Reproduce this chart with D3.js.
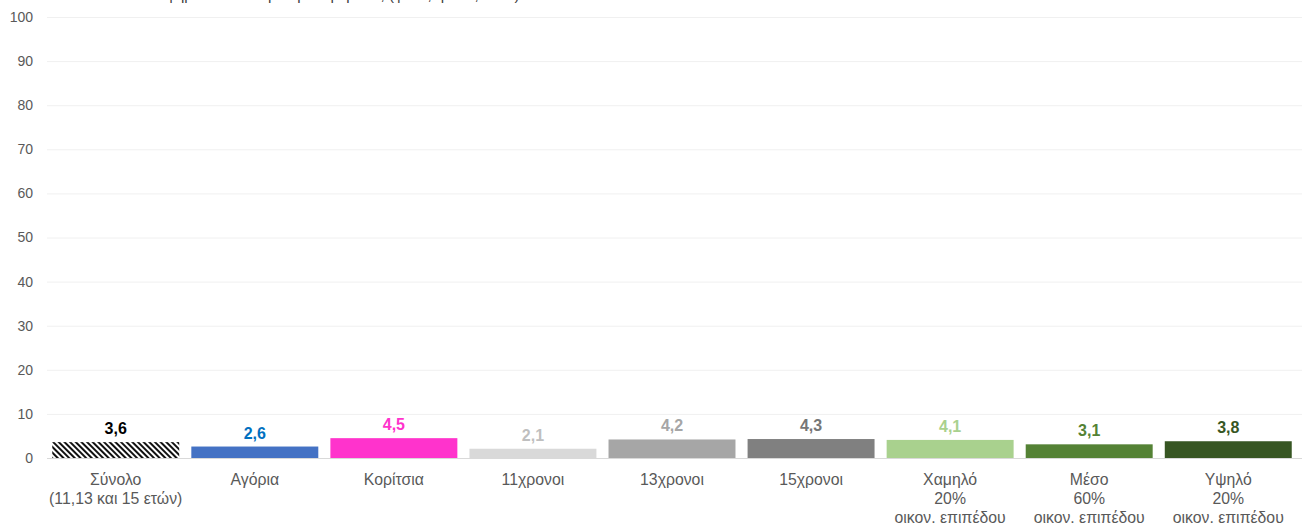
<!DOCTYPE html>
<html>
<head>
<meta charset="utf-8">
<script src="https://cdn.jsdelivr.net/npm/d3@7"></script>
<style>
  html, body { margin: 0; padding: 0; background: #ffffff; }
  svg { display: block; font-family: "Liberation Sans", Arial, sans-serif; }
</style>
</head>
<body>
<svg id="chart" width="1302" height="525"></svg>
<script>
// Categories (multi-line labels) and their values
const categories = [
  ["Σύνολο", "(11,13 και 15 ετών)"],
  ["Αγόρια"],
  ["Κορίτσια"],
  ["11χρονοι"],
  ["13χρονοι"],
  ["15χρονοι"],
  ["Χαμηλό", "20%", "οικον. επιπέδου"],
  ["Μέσο", "60%", "οικον. επιπέδου"],
  ["Υψηλό", "20%", "οικον. επιπέδου"]
];
const values = [3.6, 2.6, 4.5, 2.1, 4.2, 4.3, 4.1, 3.1, 3.8];
const yTicks = [0, 10, 20, 30, 40, 50, 60, 70, 80, 90, 100];
const titleText = "Ποσοστό εφήβων ανά πληθυσμιακή ομάδα, (φύλο, ηλικία, ΟΚΕ)";

// Bar fills and value-label colours
const barFills = ["url(#hatch)", "#4472C4", "#FF33CC", "#D9D9D9", "#A6A6A6", "#808080", "#A9D18E", "#548235", "#375623"];
const labelFills = ["#000000", "#0070C0", "#FF33CC", "#BFBFBF", "#A6A6A6", "#767676", "#A9D18E", "#548235", "#375623"];

const svg = d3.select("#chart");
const W = 1302;

// Diagonal black/white hatching for the total bar
const defs = svg.append("defs");
const pat = defs.append("pattern")
  .attr("id", "hatch")
  .attr("patternUnits", "userSpaceOnUse")
  .attr("width", 4).attr("height", 4)
  .attr("patternTransform", "rotate(-45)");
pat.append("rect").attr("width", 4).attr("height", 4).attr("fill", "#ffffff");
pat.append("rect").attr("width", 2).attr("height", 4).attr("fill", "#111111");

const idx = categories.map((d, i) => i);

const x = d3.scaleBand()
  .domain(idx)
  .range([46, 1298])
  .paddingInner(0.087)
  .paddingOuter(0.045);

const y = d3.scaleLinear().domain([0, 100]).range([458, 17]);

// Heading sitting at the very top edge
svg.append("text")
  .attr("x", 95).attr("y", 0)
  .attr("font-size", 15)
  .attr("fill", "#404040")
  .text(titleText);

// Horizontal gridlines + tick labels
const yAxis = d3.axisLeft(y).tickValues(yTicks).tickSize(-(W - 47)).tickPadding(14);
const gy = svg.append("g").attr("transform", "translate(47,0)").call(yAxis);
gy.select(".domain").remove();
gy.selectAll(".tick line")
  .attr("stroke", d => d === 0 ? "#d9d9d9" : "#f0f0f0")
  .attr("stroke-width", 1);
gy.selectAll(".tick text")
  .attr("fill", "#595959")
  .attr("font-size", 14)
  .attr("font-family", "\"Liberation Sans\", Arial, sans-serif");

// Bars
svg.append("g").selectAll("rect")
  .data(values)
  .join("rect")
  .attr("x", (d, i) => x(i))
  .attr("width", x.bandwidth())
  .attr("y", d => y(d))
  .attr("height", d => y(0) - y(d))
  .attr("fill", (d, i) => barFills[i]);

// Value labels (Greek decimal comma)
svg.append("g").selectAll("text")
  .data(values)
  .join("text")
  .attr("x", (d, i) => x(i) + x.bandwidth() / 2)
  .attr("y", d => y(d) - 8)
  .attr("text-anchor", "middle")
  .attr("font-size", 16)
  .attr("font-weight", "bold")
  .attr("fill", (d, i) => labelFills[i])
  .text(d => d.toFixed(1).replace(".", ","));

// Category labels below the baseline
const cat = svg.append("g").selectAll("text")
  .data(categories)
  .join("text")
  .attr("x", (d, i) => x(i) + x.bandwidth() / 2)
  .attr("y", 485)
  .attr("text-anchor", "middle")
  .attr("font-size", 15.8)
  .attr("fill", "#595959");
cat.selectAll("tspan")
  .data(d => d)
  .join("tspan")
  .attr("x", function () { return d3.select(this.parentNode).attr("x"); })
  .attr("dy", (d, j) => j === 0 ? 0 : 19)
  .text(d => d);
</script>
</body>
</html>
